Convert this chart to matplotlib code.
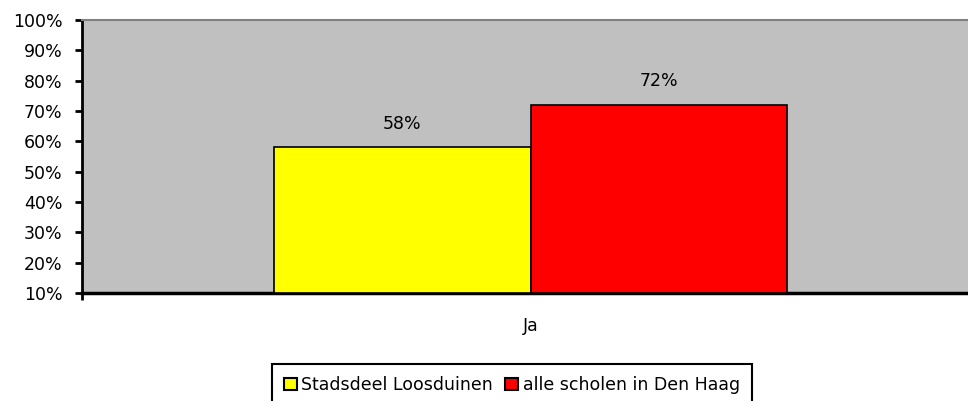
import numpy as np
import matplotlib.pyplot as plt
from matplotlib.patches import Patch

# data
category = "Ja"
series = ["Stadsdeel Loosduinen", "alle scholen in Den Haag"]
values = [58, 72]
colors = ["#ffff00", "#ff0000"]
yticks = list(range(10, 101, 10))

plt.rcParams['font.family'] = ['DejaVu Sans']
fs = 12.5

fig = plt.figure(figsize=(9.68, 4.01), dpi=100)
ax = fig.add_axes([82 / 968, (401 - 293) / 401, (979 - 82) / 968, (293 - 20) / 401])
ax.set_facecolor("#c0c0c0")

bw = 0.2857
offsets = [-bw / 2, bw / 2]
for v, c, off, name in zip(values, colors, offsets, series):
    ax.bar(off, v - 10, bottom=10, width=bw, color=c, edgecolor="black", linewidth=1.2, zorder=3)
    ax.annotate("%d%%" % v, (off, v), xytext=(0, 17), textcoords="offset points",
                ha="center", va="center", fontsize=fs)

ax.set_xlim(-0.5, 0.5)
ax.set_ylim(10, 100)
ax.set_yticks(yticks)
ax.set_yticklabels(["%d%%" % t for t in yticks], fontsize=fs)
ax.set_xticks([-0.5, 0.5])
ax.set_xticklabels(["", ""])
ax.set_xticks([0], minor=True)
ax.set_xticklabels([category], minor=True, fontsize=fs)
ax.tick_params(axis="y", direction="out", length=5, width=2, pad=9)
ax.tick_params(axis="x", which="major", direction="out", length=5, width=2)
ax.tick_params(axis="x", which="minor", length=0, pad=17)

ax.spines["left"].set_linewidth(2)
ax.spines["bottom"].set_linewidth(2.5)
ax.spines["top"].set_color("#808080")
ax.spines["top"].set_linewidth(1.5)
ax.spines["right"].set_visible(False)

handles = [Patch(facecolor=c, edgecolor="black", linewidth=1.5) for c in colors]
leg = fig.legend(handles, series, loc="upper center", bbox_to_anchor=(512 / 968, (401 - 364) / 401),
                 ncol=2, frameon=True, fancybox=False, edgecolor="black", facecolor="white",
                 framealpha=1, fontsize=fs,
                 handlelength=0.75, handleheight=0.75, handletextpad=0.25, columnspacing=0.7,
                 borderpad=0.7, borderaxespad=0)
leg.get_frame().set_linewidth(1.5)

fig.savefig("out.png", dpi=100)
